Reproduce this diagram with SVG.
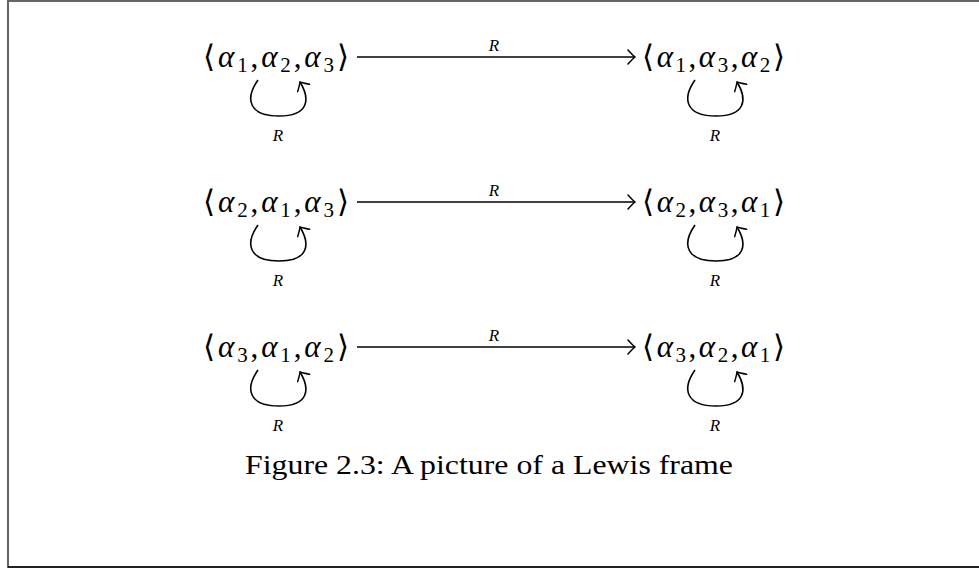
<svg xmlns="http://www.w3.org/2000/svg" width="979" height="570" viewBox="0 0 979 570">
<style>
.m{font-family:"Liberation Serif","DejaVu Serif",serif;font-size:31px;fill:#000}
.i{font-style:italic}
.s{font-size:21px}
.lbl{font-family:"Liberation Serif","DejaVu Serif",serif;font-style:italic;font-size:17px;fill:#000;text-anchor:middle}
.cap{font-family:"Liberation Serif","DejaVu Serif",serif;font-size:28px;fill:#000}
.e{fill:none;stroke:#000;stroke-width:1.6}
</style>
<defs>
<marker id="ah" viewBox="-10 -8 12 16" markerWidth="12" markerHeight="16" refX="0" refY="0" orient="auto" markerUnits="userSpaceOnUse">
<path d="M-7 -7 Q-2 -1.5 0 0 Q-2 1.5 -7 7" fill="none" stroke="#000" stroke-width="1.5" stroke-linecap="round"/>
</marker>
</defs>
<rect x="8" y="1" width="975" height="566" fill="#fff" stroke="#666" stroke-width="2"/>
<line x1="8" y1="567" x2="979" y2="567" stroke="#222" stroke-width="2"/>

<g id="n1"><text class="m" x="203" y="67" textLength="146">⟨<tspan class="i">α</tspan><tspan class="s" dy="5">1</tspan><tspan dy="-5">,</tspan><tspan class="i">α</tspan><tspan class="s" dy="5">2</tspan><tspan dy="-5">,</tspan><tspan class="i">α</tspan><tspan class="s" dy="5">3</tspan><tspan dy="-5">⟩</tspan></text></g>
<g id="n2"><text class="m" x="642" y="67" textLength="143">⟨<tspan class="i">α</tspan><tspan class="s" dy="5">1</tspan><tspan dy="-5">,</tspan><tspan class="i">α</tspan><tspan class="s" dy="5">3</tspan><tspan dy="-5">,</tspan><tspan class="i">α</tspan><tspan class="s" dy="5">2</tspan><tspan dy="-5">⟩</tspan></text></g>
<g id="n3"><text class="m" x="203" y="212" textLength="146">⟨<tspan class="i">α</tspan><tspan class="s" dy="5">2</tspan><tspan dy="-5">,</tspan><tspan class="i">α</tspan><tspan class="s" dy="5">1</tspan><tspan dy="-5">,</tspan><tspan class="i">α</tspan><tspan class="s" dy="5">3</tspan><tspan dy="-5">⟩</tspan></text></g>
<g id="n4"><text class="m" x="642" y="212" textLength="143">⟨<tspan class="i">α</tspan><tspan class="s" dy="5">2</tspan><tspan dy="-5">,</tspan><tspan class="i">α</tspan><tspan class="s" dy="5">3</tspan><tspan dy="-5">,</tspan><tspan class="i">α</tspan><tspan class="s" dy="5">1</tspan><tspan dy="-5">⟩</tspan></text></g>
<g id="n5"><text class="m" x="203" y="357" textLength="146">⟨<tspan class="i">α</tspan><tspan class="s" dy="5">3</tspan><tspan dy="-5">,</tspan><tspan class="i">α</tspan><tspan class="s" dy="5">1</tspan><tspan dy="-5">,</tspan><tspan class="i">α</tspan><tspan class="s" dy="5">2</tspan><tspan dy="-5">⟩</tspan></text></g>
<g id="n6"><text class="m" x="642" y="357" textLength="143">⟨<tspan class="i">α</tspan><tspan class="s" dy="5">3</tspan><tspan dy="-5">,</tspan><tspan class="i">α</tspan><tspan class="s" dy="5">2</tspan><tspan dy="-5">,</tspan><tspan class="i">α</tspan><tspan class="s" dy="5">1</tspan><tspan dy="-5">⟩</tspan></text></g>

<g id="connectors">
<line class="e" x1="357" y1="57" x2="635" y2="57" marker-end="url(#ah)"/>
<line class="e" x1="357" y1="202" x2="635" y2="202" marker-end="url(#ah)"/>
<line class="e" x1="357" y1="347" x2="635" y2="347" marker-end="url(#ah)"/>
<path class="e" d="M258 80 C244 100 250 116 279 116 C308 116 311 100 300 82" marker-end="url(#ah)"/>
<path class="e" d="M695 80 C681 100 687 116 716 116 C745 116 748 100 737 82" marker-end="url(#ah)"/>
<path class="e" d="M258 225 C244 245 250 261 279 261 C308 261 311 245 300 227" marker-end="url(#ah)"/>
<path class="e" d="M695 225 C681 245 687 261 716 261 C745 261 748 245 737 227" marker-end="url(#ah)"/>
<path class="e" d="M258 370 C244 390 250 406 279 406 C308 406 311 390 300 372" marker-end="url(#ah)"/>
<path class="e" d="M695 370 C681 390 687 406 716 406 C745 406 748 390 737 372" marker-end="url(#ah)"/>
<text class="lbl" x="494" y="51">R</text>
<text class="lbl" x="494" y="196">R</text>
<text class="lbl" x="494" y="341">R</text>
<text class="lbl" x="278" y="141">R</text>
<text class="lbl" x="715" y="141">R</text>
<text class="lbl" x="278" y="286">R</text>
<text class="lbl" x="715" y="286">R</text>
<text class="lbl" x="278" y="431">R</text>
<text class="lbl" x="715" y="431">R</text>
</g>

<text class="cap" x="245" y="474" textLength="488" lengthAdjust="spacingAndGlyphs">Figure 2.3: A picture of a Lewis frame</text>
</svg>
